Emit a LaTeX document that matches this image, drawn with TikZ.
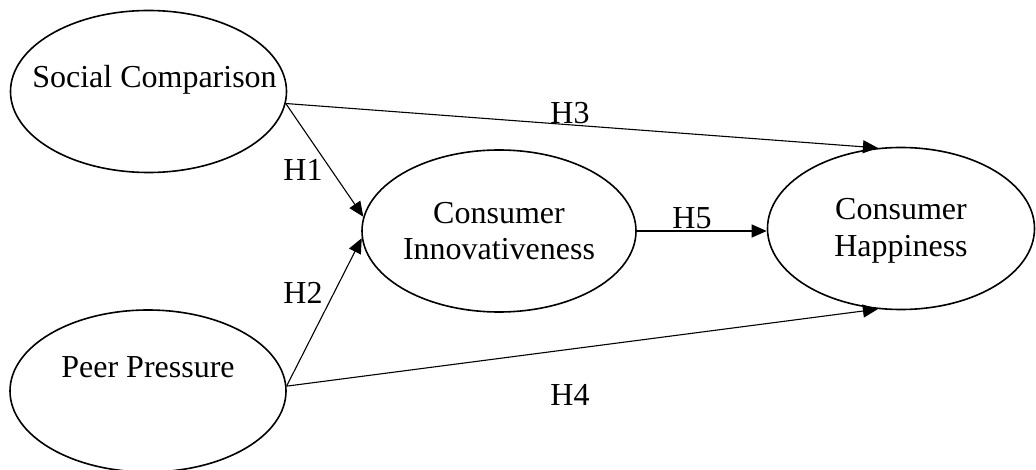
\documentclass[tikz,border=0pt]{standalone}
\usepackage{fontspec}
\setmainfont{Liberation Serif}
\usepackage{tikz}
\usetikzlibrary{shapes,arrows.meta,positioning}

\begin{document}
\begin{tikzpicture}[
        x=1pt, y=-1pt,
        construct/.style={ellipse, draw=black, line width=1.6pt, inner sep=0pt, minimum width=#1, minimum height=162pt},
        construct/.default=276pt,
        constext/.style={font=\fontsize{32}{36.5}\selectfont, align=center, inner sep=0pt},
        hyp/.style={font=\fontsize{32}{36.5}\selectfont, inner sep=0pt},
        arrow/.style={-{Triangle[length=15pt,width=13pt]}, line width=1.1pt, black}
    ]
        \useasboundingbox (0,0) rectangle (1036,470);
        % Ellipses
        \node[construct] (sc) at (148.5,91.5) {};
        \node[construct] (pp) at (148,391) {};
        \node[construct=274pt] (ci) at (499,231) {};
        \node[construct=267pt] (ch) at (901,228.5) {};

        % Texts
        \node[constext, anchor=base] (sctext) at (154.5,88) {Social Comparison};
        \node[constext, anchor=base] (pptext) at (148,377) {Peer Pressure};
        \node[constext] (citext) at (499,231) {Consumer\\Innovativeness};
        \node[constext] (chtext) at (901,231) {Consumer\\Happiness};

        % Arrows
        \draw[arrow] (sc.-5) -- (ci.174.5);
        \draw[arrow] (pp.2) -- (ci.183.5);
        \draw[arrow] (sc.-5) -- (ch.106.5);
        \draw[arrow] (pp.2) -- (ch.-106.5);
        \draw[arrow] (ci.east) -- (ci.east -| ch.west);

        % Labels
        \node[hyp] (h1) at (303,170) {H1};
        \node[hyp] (h2) at (303,293) {H2};
        \node[hyp] (h3) at (570,113) {H3};
        \node[hyp] (h4) at (570,395) {H4};
        \node[hyp] (h5) at (692,218) {H5};
    \end{tikzpicture}
\end{document}
